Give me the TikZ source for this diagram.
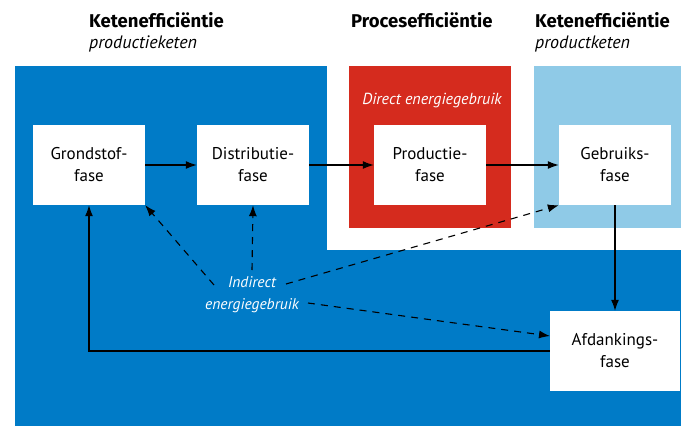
\documentclass[tikz,border=0pt]{standalone}
\usepackage{fontspec}
\setmainfont{PT Sans}
\newfontfamily\headfont{Fira Sans}
\usetikzlibrary{arrows.meta,calc}
\definecolor{rhblue}{RGB}{0,123,199}
\definecolor{rhred}{RGB}{213,43,30}
\definecolor{rhlight}{RGB}{143,202,231}
\tikzset{
  phase/.style={fill=white, minimum width=112pt, minimum height=80pt, inner sep=0pt, align=center, font=\fontsize{17}{22}\selectfont},
  flow/.style={line width=1.1pt, -{Latex[length=11pt,width=8pt]}},
  indir/.style={line width=1.1pt, dash pattern=on 7pt off 6pt, -{Latex[length=11pt,width=8pt]}},
  head/.style={anchor=base west, inner sep=0pt, font=\headfont\fontsize{18.5}{20}\selectfont\bfseries},
  sub/.style={anchor=base west, inner sep=0pt, font=\fontsize{18}{20}\selectfont\itshape},
}
\begin{document}
\begin{tikzpicture}[x=1pt,y=-1pt]
\useasboundingbox (0,0) rectangle (681,426);
% backgrounds
\fill[rhblue] (15,66) rectangle (681,426);
\fill[white] (327,66) rectangle (681,250);
\fill[rhred] (349,66) rectangle (511,228);
\fill[rhlight] (534,66) rectangle (681,228);
% headers
\node[head] (h1) at (89,27) {Ketenefficiëntie};
\node[sub] (s1) at (89,48) {productieketen};
\node[head] (h2) at (351,27) {Procesefficiëntie};
\node[head] (h3) at (535,27) {Ketenefficiëntie};
\node[sub] (s3) at (535,48) {productketen};
\node[anchor=base, inner sep=0pt, text=white, font=\fontsize{16}{18}\selectfont\itshape] (direct) at (432,104) {Direct energiegebruik};
% boxes
\node[phase] (gron) at (89,165) {Grondstof-\\fase};
\node[phase] (dist) at (253,165) {Distributie-\\fase};
\node[phase] (prod) at (430,165) {Productie-\\fase};
\node[phase] (gebr) at (615,165) {Gebruiks-\\fase};
\node[phase, minimum width=130pt] (afd) at (615,351) {Afdankings-\\fase};
% indirect label
\node[text=white, align=center, inner sep=0pt, font=\fontsize{15.5}{22}\selectfont\itshape] (ind) at (252,295) {Indirect\\energiegebruik};
% flows
\draw[flow] (gron) -- (dist);
\draw[flow] (dist) -- (prod);
\draw[flow] (prod) -- (gebr);
\draw[flow] (gebr.south) -- (afd.north);
\draw[flow] (afd.west) -| (gron.south);
% indirect links
\coordinate (d1) at (214,285);
\coordinate (d2) at (252,270);
\coordinate (d3) at (286,284);
\coordinate (d4) at (308,303);
\coordinate (afdin) at (550,336);
\draw[indir] (d1) -- (gron.south east);
\draw[indir] (d2) -- (gron.south east -| dist.south);
\draw[indir] (d3) -- (gebr.south west);
\draw[indir] (d4) -- (afdin);
\end{tikzpicture}
\end{document}
